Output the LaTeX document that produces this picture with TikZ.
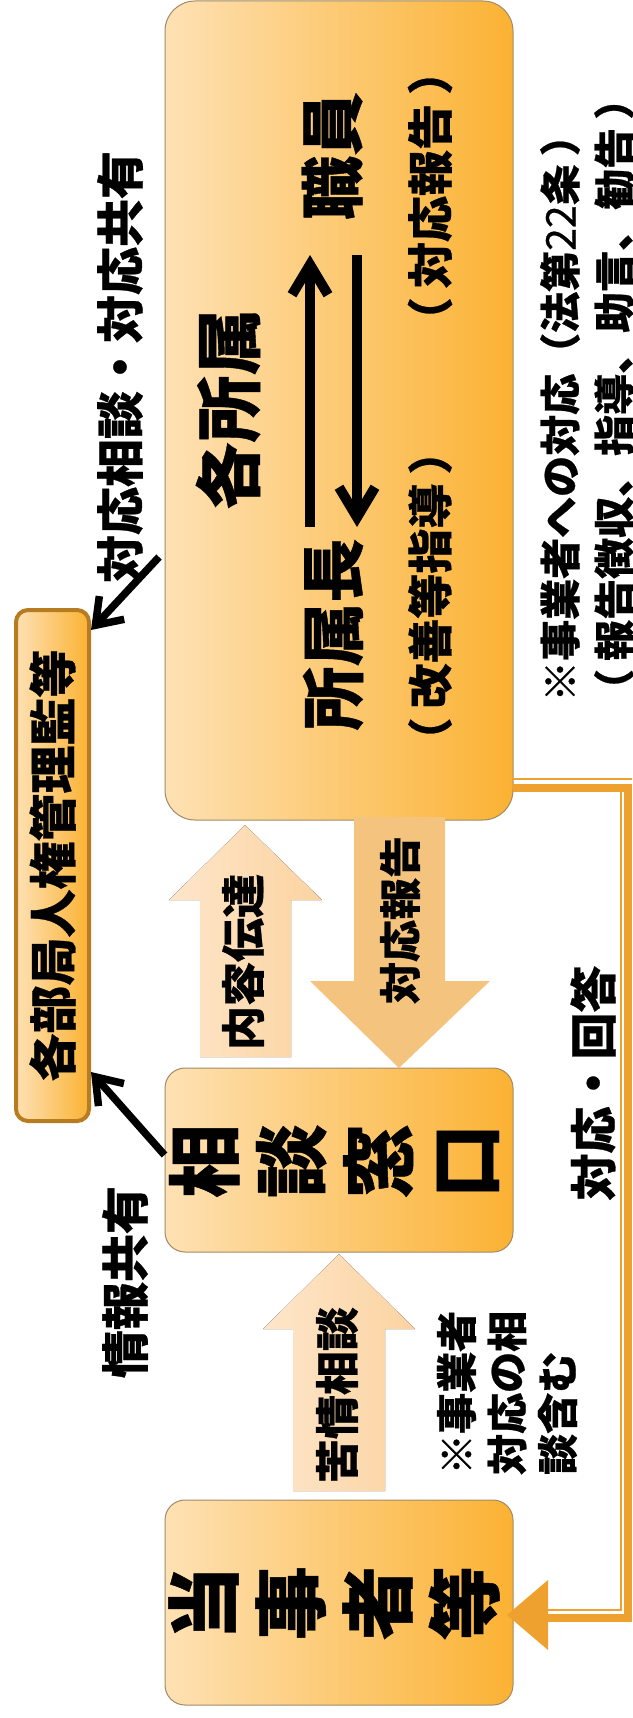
\documentclass[tikz,border=0pt]{standalone}
\usepackage{fontspec}
\newfontfamily\jp{Noto Sans CJK JP}[Kerning=Off]
\usetikzlibrary{arrows.meta,calc}
\definecolor{boxL}{HTML}{FEE1B4}
\definecolor{boxR}{HTML}{FBB233}
\definecolor{boxD}{HTML}{A08A66}
\definecolor{conn}{HTML}{EEA12E}
\definecolor{kbord}{HTML}{B77B22}
\definecolor{arrL}{HTML}{FEE6CB}
\definecolor{arrR}{HTML}{FBD3A0}
\definecolor{arrD}{HTML}{F4C47F}
\newcommand\lp{\kern-0.2em（\kern0.2em}
\newcommand\rp{\kern0.2em）\kern-0.2em}
\tikzset{
  box/.style={draw=boxD, line width=1pt, left color=boxL, right color=boxR, inner sep=0pt},
  lbl/.style={rotate=90, inner sep=0pt, text=black},
  jf/.style 2 args={font=\fontsize{#1}{#2}\selectfont\jp\bfseries\addfontfeature{FakeBold=0.6}},
  blk/.style={line width=7.5pt, -{Straight Barb[length=24pt,width=34pt]}},
  inarr/.style={line width=10pt, -{Straight Barb[length=30pt,width=36pt]}},
  connthin/.style={draw=conn, line width=2.5pt},
  connthick/.style={draw=conn, line width=8pt, line join=miter},
}
\begin{document}
\begin{tikzpicture}[x=1pt,y=-1pt]
\useasboundingbox (0,0) rectangle (632,1718);

% boxes
\node[box, rounded corners=30pt, minimum width=348pt, minimum height=819pt] (shozoku) at (339,410.5) {};
\node[box, rounded corners=20pt, minimum width=348pt, minimum height=184pt] (soudan) at (339,1160) {};
\node[box, rounded corners=20pt, minimum width=348pt, minimum height=205pt] (toji) at (339,1602.5) {};
\node[box, draw=kbord, line width=4pt, rounded corners=12pt, minimum width=73pt, minimum height=511pt] (kanri) at (52.5,865.5) {};

% block arrows
\fill[left color=arrL, right color=arrR] (200,1057) -- (200,900) -- (169,900) -- (245,825) -- (322,900) -- (291,900) -- (291,1057) -- cycle;
\fill[arrD] (354,817) -- (445,817) -- (445,981) -- (490,981) -- (399,1068) -- (310,981) -- (354,981) -- cycle;
\fill[left color=arrL, right color=arrR] (293,1491) -- (293,1329) -- (263,1329) -- (339,1254) -- (415,1329) -- (385,1329) -- (385,1491) -- cycle;

% black arrows
\coordinate (c1s) at (159,557);
\coordinate (c1e) at ($(kanri.north east)+(0,22)$);
\coordinate (c2s) at ($(soudan.west)+(0,-5)$);
\coordinate (c2e) at ($(kanri.south east)+(0,-51)$);
\draw[blk] (c1s) -- (c1e);
\draw[blk] (c2s) -- (c2e);

% arrows inside big box
\coordinate (u1) at (310,527); \coordinate (u2) at (310,255);
\coordinate (d1) at (357,255); \coordinate (d2) at (357,527);
\draw[inarr] (u1) -- (u2);
\draw[inarr] (d1) -- (d2);

% orange connector
\coordinate (k0) at (513,779); \coordinate (k1) at (632,779);
\coordinate (k2) at (621,792); \coordinate (k3) at (621,1610); \coordinate (k4) at (548,1610);
\coordinate (m0) at (513,788); \coordinate (m1) at (628,788); \coordinate (m2) at (628,1618); \coordinate (m3) at (548,1618);
\draw[connthin] (k0) -- (k1);
\draw[connthin] (k2) -- (k3) -- (k4);
\draw[connthick] (m0) -- (m1) -- (m2) -- (m3);
\coordinate (h1) at (548,1580); \coordinate (h2) at (507,1615); \coordinate (h3) at (548,1650);
\fill[conn] (h1) -- (h2) -- (h3) -- cycle;

% texts
\node[lbl, jf={67}{67}] (tkaku) at (228,409) {各所属};
\node[lbl, jf={64}{64}] (tshokuin) at (332,156) {職員};
\node[lbl, jf={64}{64}] (tchou) at (333,634.5) {所属長};
\node[lbl, jf={46}{46}] (ttaiou) at (430,196) {\lp 対応報告\rp};
\node[lbl, jf={45}{45}] (tkaizen) at (430,596) {\lp 改善等指導\rp};
\node[lbl, jf={41}{54}, anchor=west, align=left] (tnote1) at (587,702) {※事業者への対応（法第{\mdseries 22}条\rp\\\lp 報告徴収、指導、助言、勧告\rp};
\node[lbl, jf={48}{48}] (tshare) at (120,367) {対応相談・対応共有};
\node[lbl, jf={48}{48}] (tkanri) at (kanri.center) {各部局人権管理監等};
\node[lbl, jf={48}{48}] (tjouhou) at (125,1282) {情報共有};
\node[lbl, jf={44}{44}] (tnaiyou) at (243,962) {内容伝達};
\node[lbl, jf={42}{42}] (thoukoku) at (400,920) {対応報告};
\node[lbl, jf={44}{44}] (tkujou) at (337,1395) {苦情相談};
\node[lbl, jf={47}{47}] (tkaitou) at (593,1083) {対応・回答};
\node[lbl, jf={41}{50.5}, anchor=west, align=left] (tnote2) at (507,1475) {※事業者\\対応の相\\談含む};
\node[lbl, jf={74}{87}, align=center] (tsoudan) at (334,1161) {相\\談\\窓\\口};
\node[lbl, jf={74}{87}, align=center] (ttoji) at (334,1603) {当\\事\\者\\等};
\end{tikzpicture}
\end{document}
